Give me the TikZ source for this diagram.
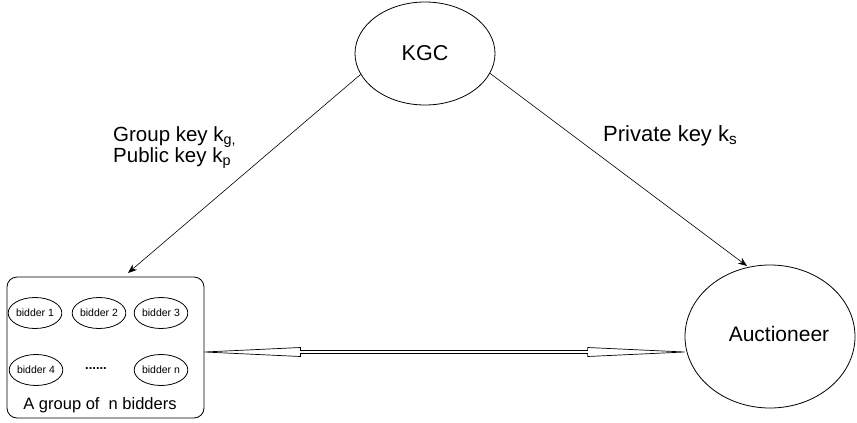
\documentclass[tikz,border=0pt]{standalone}
\usepackage{fontspec}
\setmainfont{Liberation Sans}
\usetikzlibrary{shapes.geometric,arrows.meta,calc}
\begin{document}
\begin{tikzpicture}[x=1pt,y=-1pt,
  bigoval/.style={ellipse,draw,line width=0.8pt,inner sep=0pt},
  bidderoval/.style={ellipse,draw,line width=0.8pt,inner sep=0pt,
    minimum width=51pt,minimum height=31pt,font=\fontsize{10.5}{12}\selectfont},
  keyarrow/.style={line width=0.6pt,-{Stealth[length=9pt,width=7pt]}},
  keylabel/.style={anchor=base west,inner sep=0pt}]
\useasboundingbox (0,0) rectangle (857,423);

% key generation centre and auctioneer
\node[bigoval,minimum width=140pt,minimum height=103pt,
  font=\fontsize{21.5}{25}\selectfont] (kgc) at (425,53.5) {KGC};
\node[bigoval,minimum width=170pt,minimum height=143pt] (auc) at (770,336.5) {};
\node[font=\fontsize{21}{24}\selectfont,inner sep=0pt] (auctxt) at (779,334) {Auctioneer};

% group of bidders
\node[draw,line width=0.8pt,rounded corners=10pt,minimum width=197pt,
  minimum height=141pt,inner sep=0pt] (grp) at (105.5,347.5) {};
\node[bidderoval] (b1) at (35,313) {bidder 1};
\node[bidderoval] (b2) at (99,313) {bidder 2};
\node[bidderoval] (b3) at (161,313) {bidder 3};
\node[bidderoval] (b4) at (36,370) {bidder 4};
\node[bidderoval] (bn) at (161,370) {bidder n};
\node[font=\fontsize{13}{14}\selectfont\bfseries] (dots) at (96,369) {......};
\node[font=\fontsize{16.5}{19}\selectfont,inner sep=0pt] (grplabel) at (100,405) {A group of \ n bidders};

% key distribution
\coordinate (gin) at (128,273);
\coordinate (ain) at (747,266);
\draw[keyarrow] (kgc.198) -- (gin);
\draw[keyarrow] (kgc.-17) -- (ain);
\node[keylabel,font=\fontsize{20.5}{24}\selectfont] (lg) at (113,141) {Group key k\textsubscript{g,}};
\node[keylabel,font=\fontsize{20.5}{24}\selectfont] (lp) at (113,162) {Public key k\textsubscript{p}};
\node[keylabel,font=\fontsize{22}{26}\selectfont] (ls) at (603,141) {Private key k\textsubscript{s}};

% two-way hollow arrow between the group and the auctioneer
\coordinate (aL) at ([yshift=-4.5pt]grp.east);
\coordinate (aR) at (aL -| auc.west);
\draw[line width=0.7pt,fill=white]
  (aL) -- ($(aL)+(96,-4.5)$) -- ($(aL)+(96,-1.5)$)
  -- ($(aR)+(-97,-1.5)$) -- ($(aR)+(-97,-4.5)$) -- (aR)
  -- ($(aR)+(-97,4.5)$) -- ($(aR)+(-97,1.5)$)
  -- ($(aL)+(96,1.5)$) -- ($(aL)+(96,4.5)$) -- cycle;
\end{tikzpicture}
\end{document}
